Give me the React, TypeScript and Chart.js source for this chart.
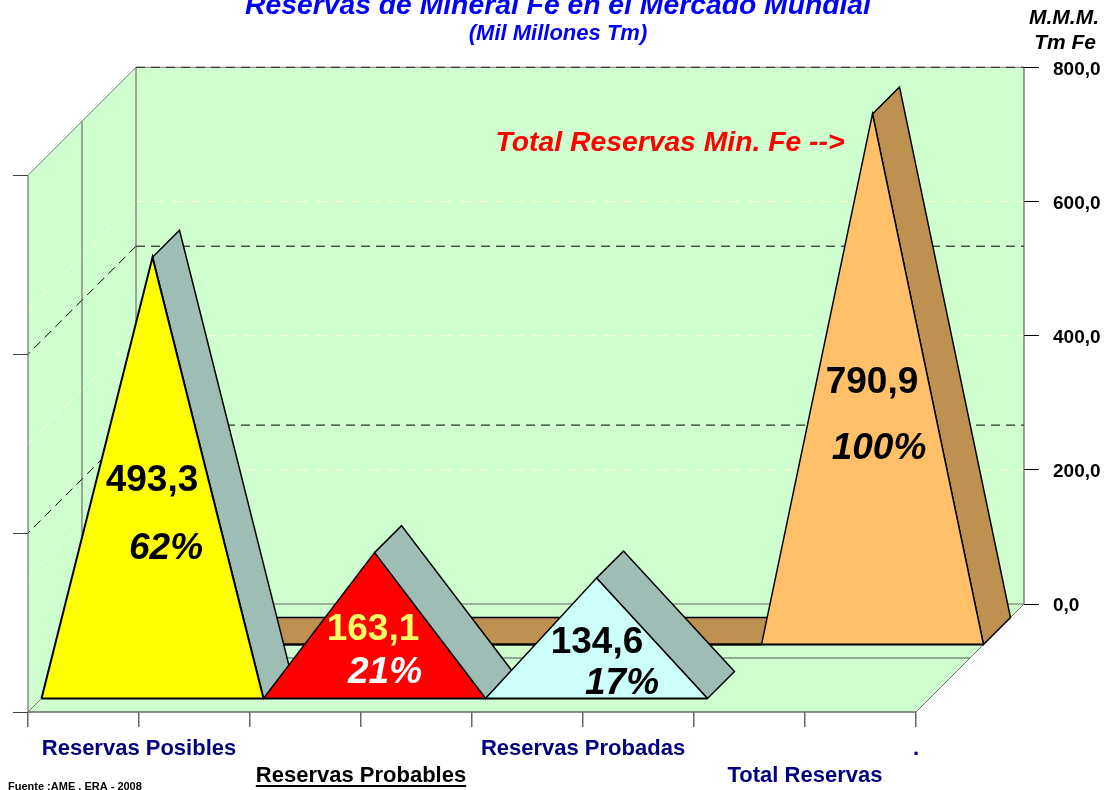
import React, { useEffect, useRef } from "react";
import { Chart, registerables } from "chart.js";

Chart.register(...registerables);

// ---- data ----
const slots = [0, 1, 2, 3, 4, 5, 6, 7, 8];
const xTickLabels: (string | string[])[] = [
  "", "Reservas Posibles", "", ["", "Reservas Probables"], "", "Reservas Probadas", "", ["", "Total Reservas"], ".",
];
const posibles = [0, 493.3, 0, null, null, null, null, null, null];
const probables = [null, null, 0, 163.1, 0, null, null, null, null];
const probadas = [null, null, null, null, 0, 134.6, 0, null, null];
const total = [0, 0, 0, 0, 0, 0, 0, 790.9, 0];
const leftTicks = [0, 200, 400, 600];
const rightTicks = [0, 200, 400, 600, 800];
const valueLabels = ["493,3", "163,1", "134,6", "790,9"];
const percentLabels = ["62%", "21%", "17%", "100%"];
const titleText = "Reservas de Mineral Fe en el Mercado Mundial";
const subtitleText = "(Mil Millones Tm)";
const unitLabels = ["M.M.M.", "Tm Fe"];
const calloutText = "Total Reservas Min. Fe -->";
const sourceText = "Fuente :AME . ERA - 2008";

// ---- geometry of the 3D box (styles, not data) ----
const CW = 1116, CH = 790;
const L = 28, T = 67, R = 1024, B = 712;
const SLOT = 111;          // px per x slot
const BOX = 108;           // depth of the floor
const HALF = 13.5;         // depth margin in front of the first series
const RIB = 27;            // ribbon depth
const K_L = 537 / 600;     // px per unit, primary axis
const K_R = 537 / 800;     // px per unit, secondary axis
const FRONT_A = HALF;      // depth of front series
const FRONT_B = HALF + 2 * RIB; // depth of back series (front face)

const FONT = "'Liberation Sans', Arial, sans-serif";
const WALL = "#CFFFCF";
const SIDE_A = "#9DBDB5";
const SIDE_B = "#BF9150";

const points = (arr: (number | null)[]) => slots.map((s, i) => ({ x: s, y: arr[i] }));

const drawSides = (chart: any, index: number) => {
  const meta = chart.getDatasetMeta(index);
  const sideCol = chart.data.datasets[index].sideColor;
  const c = chart.ctx;
  const pts = meta.data.filter((p: any) => !p.skip);
  c.save();
  c.lineJoin = "miter";
  for (let i = 0; i < pts.length - 1; i++) {
    const a = pts[i], b = pts[i + 1];
    if (b.y < a.y) continue; // rising slopes stay hidden behind the front face
    c.beginPath();
    c.moveTo(a.x, a.y);
    c.lineTo(a.x + RIB, a.y - RIB);
    c.lineTo(b.x + RIB, b.y - RIB);
    c.lineTo(b.x, b.y);
    c.closePath();
    c.fillStyle = sideCol; c.fill();
    c.strokeStyle = "#000"; c.lineWidth = 1.5; c.stroke();
  }
  c.restore();
};

const box3d = {
  id: "box3d",
  beforeDraw(chart: any) {
    const c = chart.ctx;
    const x = chart.scales.x, yR = chart.scales.yR, yL = chart.scales.yL;
    const x0 = x.getPixelForValue(0), x8 = x.getPixelForValue(8);
    const y0 = yL.getPixelForValue(0), yTop = yL.getPixelForValue(600);
    const bx = x0 + BOX, by = y0 - BOX;
    const backR = x8 + BOX, backT = yTop - BOX;
    const poly = (pts: number[][], fill?: string) => {
      c.beginPath();
      pts.forEach((p, i) => (i ? c.lineTo(p[0], p[1]) : c.moveTo(p[0], p[1])));
      c.closePath();
      if (fill) { c.fillStyle = fill; c.fill(); }
    };
    const line = (a: number[], b: number[], col: string, w = 1, dash: number[] = []) => {
      c.save();
      c.beginPath(); c.setLineDash(dash); c.moveTo(a[0], a[1]); c.lineTo(b[0], b[1]);
      c.strokeStyle = col; c.lineWidth = w; c.stroke();
      c.restore();
    };
    c.save();
    poly([[bx, backT], [backR, backT], [backR, by], [bx, by]], WALL);
    poly([[x0, yTop], [bx, backT], [bx, by], [x0, y0]], WALL);
    poly([[x0, y0], [x8, y0], [backR, by], [bx, by]], WALL);

    // secondary-axis gridlines, light yellow
    [200, 400, 600].forEach((v) => {
      const py = yR.getPixelForValue(v);
      line([bx, py], [backR, py], "#FFFFC8", 1, [10, 8]);
      line([bx, py], [x0, py + BOX], "#FFFFC8", 1, [10, 8]);
    });
    // primary-axis gridlines, black dashed
    [200, 400].forEach((v) => {
      const py = yL.getPixelForValue(v) - BOX;
      line([bx, py], [backR, py], "#000", 1, [9, 6]);
      line([bx, py], [x0, py + BOX], "#000", 1, [9, 6]);
    });
    const edge = "#666";
    line([bx, backT], [backR, backT], "#777", 1);
    line([bx, backT], [backR, backT], "#222", 1, [9, 6]);
    line([backR, backT], [backR, by], "#444", 1);
    line([bx, backT], [bx, by], "#555", 1);
    line([x0, yTop], [bx, backT], "#777", 1);
    line([x0, yTop], [x0, y0], "#555", 1);
    line([x0, y0], [bx, by], "#777", 1);
    line([bx, by], [backR, by], "#666", 1);
    line([x0, y0], [x8, y0], edge, 1.5);
    line([x8, y0], [backR, by], "#777", 1);
    // mid-depth divider
    const mid = BOX / 2;
    line([x0 + mid, yTop - mid], [x0 + mid, y0 - mid], "#555", 1);
    line([x0 + mid, y0 - mid], [x8 + mid, y0 - mid], "#555", 1);
    c.restore();
  },
  // Datasets paint from last to first; each one's side faces go down before its own fill.
  beforeDatasetsDraw(chart: any) {
    drawSides(chart, chart.data.datasets.length - 1);
  },
  afterDatasetDraw(chart: any, args: any) {
    const c = chart.ctx;
    const pts = args.meta.data.filter((p: any) => !p.skip);
    const a = pts[0], b = pts[pts.length - 1];
    c.save();
    c.beginPath();
    c.moveTo(a.x, a.y); c.lineTo(b.x, b.y);
    c.strokeStyle = "#000"; c.lineWidth = 2; c.stroke();
    c.restore();
    if (args.index > 0) drawSides(chart, args.index - 1);
  },
  afterDraw(chart: any) {
    const c = chart.ctx;
    const text = (s: string, x: number, y: number, font: string, col: string, align: CanvasTextAlign = "center") => {
      c.font = font; c.fillStyle = col; c.textAlign = align; c.textBaseline = "middle";
      c.fillText(s, x, y);
    };
    c.save();
    const big = `bold 37px ${FONT}`, bigI = `italic bold 37px ${FONT}`;
    text(valueLabels[0], 152, 481, big, "#000");
    text(percentLabels[0], 166, 549, bigI, "#000");
    text(valueLabels[1], 373, 630, big, "#FFFF66");
    text(percentLabels[1], 385, 673, bigI, "#FFF");
    text(valueLabels[2], 597, 643, big, "#000");
    text(percentLabels[2], 622, 684, bigI, "#000");
    text(valueLabels[3], 872, 383, big, "#000");
    text(percentLabels[3], 879, 449, bigI, "#000");
    text(calloutText, 670, 143, `italic bold 28.3px ${FONT}`, "#FF0000");
    text(unitLabels[0], 1099, 18, `italic bold 21px ${FONT}`, "#000", "right");
    text(unitLabels[1], 1096, 43, `italic bold 21px ${FONT}`, "#000", "right");
    text(sourceText, 8, 787, `bold 11px ${FONT}`, "#000", "left");
    // underline of the black category label
    c.font = `bold 22px ${FONT}`;
    const px = chart.scales.x.getPixelForValue(3);
    const w = c.measureText("Reservas Probables").width;
    c.fillStyle = "#000";
    c.fillRect(px - w / 2, 785, w, 2);
    c.restore();
  },
};

export default function App() {
  const ref = useRef<HTMLCanvasElement | null>(null);
  useEffect(() => {
    const line = (label: string, arr: (number | null)[], xId: string, yId: string, col: string, side: string, w: number) => ({
      label,
      data: points(arr),
      xAxisID: xId,
      yAxisID: yId,
      backgroundColor: col,
      borderColor: "#000",
      borderWidth: w,
      borderJoinStyle: "miter",
      fill: "origin",
      pointRadius: 0,
      tension: 0,
      spanGaps: false,
      sideColor: side,
    });
    const fixedTicks = (vals: number[]) => (s: any) => { s.ticks = vals.map((value) => ({ value })); };
    const hidden = (min: number, max: number) => ({ type: "linear", display: false, min, max });
    const chart = new Chart(ref.current as HTMLCanvasElement, {
      type: "line",
      data: {
        datasets: [
          line("Reservas Probadas", probadas, "xA", "yA", "#CCFFF9", SIDE_A, 1.5),
          line("Reservas Probables", probables, "xA", "yA", "#FF0000", SIDE_A, 1.5),
          line("Reservas Posibles", posibles, "xA", "yA", "#FFFF00", SIDE_A, 2),
          line("Total Reservas", total, "xB", "yB", "#FFC069", SIDE_B, 1.5),
        ] as any,
      },
      plugins: [box3d],
      options: {
        responsive: false,
        animation: false,
        devicePixelRatio: 1,
        layout: { padding: 0 },
        plugins: {
          legend: { display: false },
          tooltip: { enabled: false },
          title: {
            display: true,
            text: titleText,
            color: "#0000FF",
            font: { family: FONT, size: 28.3, weight: "bold", style: "italic", lineHeight: 1.2 },
            padding: { top: -11, bottom: 0 },
          },
          subtitle: {
            display: true,
            text: subtitleText,
            color: "#0000FF",
            font: { family: FONT, size: 22, weight: "bold", style: "italic", lineHeight: 1.2 },
            padding: { top: -2, bottom: 20 },
          },
        },
        scales: {
          x: {
            type: "linear",
            position: "bottom",
            min: 0,
            max: (R - L) / SLOT,
            afterBuildTicks: fixedTicks(slots),
            afterFit: (s: any) => { s.height = CH - B; },
            border: { display: false },
            grid: { drawOnChartArea: false, tickLength: 15, tickColor: "#666", lineWidth: 1.5 },
            ticks: {
              autoSkip: false,
              maxRotation: 0,
              padding: 9,
              color: (ctx: any) => (ctx.tick && ctx.tick.value === 3 ? "#000" : "#000080"),
              font: { family: FONT, size: 22, weight: "bold", lineHeight: 1.22 },
              callback: (v: any) => xTickLabels[v],
            },
          },
          yL: {
            type: "linear",
            position: "left",
            min: 0,
            max: (B - T) / K_L,
            afterBuildTicks: fixedTicks(leftTicks),
            afterFit: (s: any) => { s.width = L; },
            border: { display: false },
            grid: { drawOnChartArea: false, tickLength: 15, tickColor: "#444", lineWidth: 1 },
            ticks: { display: false },
          },
          yR: {
            type: "linear",
            position: "right",
            min: -BOX / K_R,
            max: 800,
            afterBuildTicks: fixedTicks(rightTicks),
            afterFit: (s: any) => { s.width = CW - R; },
            border: { display: false },
            grid: { drawOnChartArea: false, tickLength: 15, tickColor: "#000", lineWidth: 1 },
            ticks: {
              color: "#000",
              padding: 14,
              labelOffset: 2,
              font: { family: FONT, size: 19, weight: "bold" },
              callback: (v: any) => Number(v).toFixed(1).replace(".", ","),
            },
          },
          // hidden scales: the same value axes shifted to each series' depth
          xA: hidden(-FRONT_A / SLOT, (R - L - FRONT_A) / SLOT),
          yA: hidden(-FRONT_A / K_L, (B - FRONT_A - T) / K_L),
          xB: hidden(-FRONT_B / SLOT, (R - L - FRONT_B) / SLOT),
          yB: hidden(-FRONT_B / K_R, (B - FRONT_B - T) / K_R),
        } as any,
      } as any,
    });
    return () => chart.destroy();
  }, []);
  return (
    <div style={{ position: "absolute", left: 0, top: 0, width: 1106, height: 790, overflow: "hidden", background: "#fff" }}>
      <canvas ref={ref} width={CW} height={CH} style={{ display: "block" }} />
    </div>
  );
}
